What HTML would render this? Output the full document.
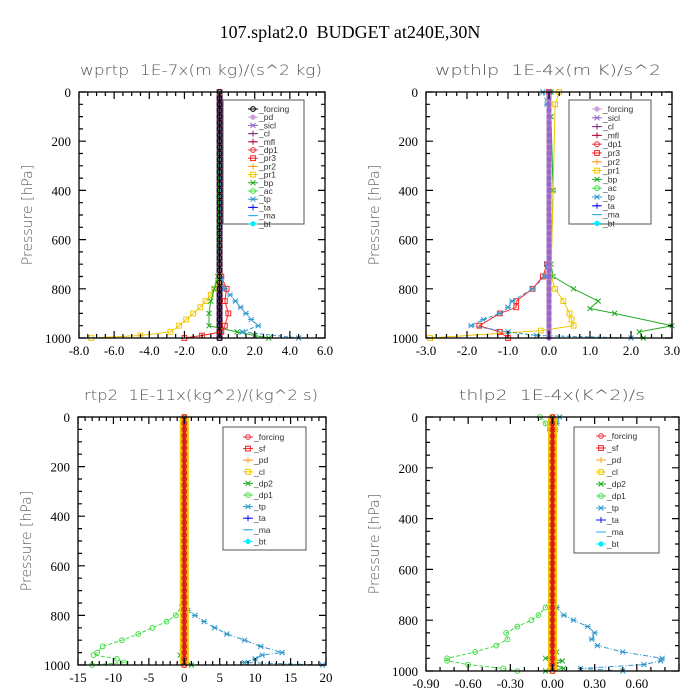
<!DOCTYPE html>
<html><head><meta charset="utf-8"><style>
body{margin:0;background:#fff}
svg{display:block}
svg text{white-space:pre}
.tl{font-family:"Liberation Serif",serif;font-size:13px;fill:#000}
.pt{font-family:"DejaVu Sans","Liberation Sans",sans-serif;font-size:14px;fill:#555;font-weight:300}
.lg{font-family:"Liberation Sans",sans-serif;font-size:8.5px;fill:#333}
</style></head><body>
<svg id="c" width="700" height="700" viewBox="0 0 700 700">
<rect width="700" height="700" fill="#fff"/>
<text x="350" y="38" text-anchor="middle" font-family="Liberation Serif,serif" font-size="18">107.splat2.0  BUDGET at240E,30N</text>
</svg>
<script>
// shared pressure levels for zero-valued series
const P = [0,25,50,75,100,125,150,175,200,225,250,275,300,325,350,375,400,425,450,475,500,525,550,575,600,625,650,675,700,725,750,775,800,825,850,875,900,925,950,975,1000];
const Z = [0,0,0,0,0,0,0,0,0,0,0,0,0,0,0,0,0,0,0,0,0,0,0,0,0,0,0,0,0,0,0,0,0,0,0,0,0,0,0,0,0];

// Panel 1 data (wprtp)
const p1Names = ["_forcing","_pd","_sicl","_cl","_mfl","_dp1","_pr3","_pr2","_pr1","_bp","_ac","_tp","_ta","_ma","_bt"];
const p1Pr1P = [0,750,775,800,825,850,875,900,925,950,975,990,1000];
const p1Pr1X = [0,0,-0.1,-0.3,-0.5,-0.8,-1.1,-1.5,-1.9,-2.3,-2.8,-4.5,-7.3];
const p1TpP = [0,760,800,825,850,875,900,925,950,975,1000];
const p1TpX = [0,0.1,0.3,0.6,0.9,1.2,1.5,1.8,2.2,1.3,4.5];
const p1Dp1P = [0,750,800,850,900,950,975,990,1000];
const p1Dp1X = [0,0.1,0.4,0.3,0.5,0.3,0.1,-1.0,-2.0];
const p1BpP = [0,750,800,850,900,950,975,990,1000];
const p1BpX = [0,-0.1,-0.3,-0.5,-0.6,-0.6,1.0,2.0,2.8];

// Panel 2 data (wpthlp)
const p2Names = ["_forcing","_sicl","_cl","_mfl","_dp1","_pr3","_pr2","_pr1","_bp","_ac","_tp","_ta","_ma","_bt"];
const p2BpP = [0,100,400,700,750,800,850,880,900,950,975,1000];
const p2BpX = [0.05,0.05,0.1,0.05,0.1,0.6,1.2,1.0,1.6,3.0,2.2,2.3];
const p2Pr1P = [0,50,400,750,800,850,900,925,950,970,1000];
const p2Pr1X = [0.25,0.15,0.1,0.05,0.15,0.35,0.5,0.55,0.6,-0.2,-2.9];
const p2Dp1P = [0,700,750,800,850,875,900,950,975,1000];
const p2Dp1X = [0,-0.05,-0.15,-0.4,-0.8,-0.8,-1.2,-1.7,-1.2,-1.0];
const p2TpP = [0,50,700,750,800,850,875,900,925,950,975,990,1000];
const p2TpX = [-0.15,-0.05,-0.05,-0.1,-0.4,-0.9,-1.0,-1.2,-1.6,-1.9,-1.0,-0.3,2.0];

// Panel 3 data (rtp2)
const p3Names = ["_forcing","_sf","_pd","_cl","_dp2","_dp1","_tp","_ta","_ma","_bt"];
const p3Dp1P = [0,760,800,825,850,875,900,925,950,960,975,990,1000];
const p3Dp1X = [0,-0.3,-1.2,-2.5,-4.5,-6.5,-8.8,-11.5,-12.3,-12.8,-9.5,-8.5,-13];
const p3TpP = [0,780,800,825,850,875,900,925,950,960,975,990,1000];
const p3TpX = [0,0.5,1.5,2.8,4.3,6.0,8.5,10.8,13.8,11.0,10.0,8.5,19.5];
const p3Dp2P = [0,900,950,960,975,1000];
const p3Dp2X = [0,0,-0.3,-0.6,-0.3,1.0];

// Panel 4 data (thlp2)
const p4Names = p3Names;
const p4Dp1P = [0,25,50,100,700,750,780,800,825,850,875,900,925,950,960,975,990,1000];
const p4Dp1X = [-0.09,-0.05,-0.02,0,-0.01,-0.05,-0.1,-0.15,-0.25,-0.33,-0.32,-0.4,-0.55,-0.75,-0.75,-0.6,-0.35,-0.25];
const p4TpP = [0,25,50,100,700,750,780,800,825,850,875,900,925,950,960,975,990,1000];
const p4TpX = [0.05,0.03,0.02,0.01,0.01,0.03,0.08,0.15,0.25,0.3,0.28,0.32,0.5,0.78,0.77,0.65,0.2,0.5];
const p4Dp2P = [0,900,925,950,960,975,990,1000];
const p4Dp2X = [0,0,0.03,-0.05,0.07,0.02,0.08,-0.05];

const S = document.getElementById('c');
const NS = 'http://www.w3.org/2000/svg';
function mk(tag, at, parent){const e=document.createElementNS(NS,tag);for(const k in at)e.setAttribute(k,at[k]);(parent||S).appendChild(e);return e;}

function marker(g, type, x, y, col){
  let e;
  if(type==='o'){e=mk('circle',{cx:x,cy:y,r:2.4,fill:'none',stroke:col,'stroke-width':1},g);}
  else if(type==='s'){e=mk('rect',{x:x-2.4,y:y-2.4,width:4.8,height:4.8,fill:'none',stroke:col,'stroke-width':1},g);}
  else if(type==='x'){e=mk('path',{d:`M${x-2.5},${y-2.5}L${x+2.5},${y+2.5}M${x-2.5},${y+2.5}L${x+2.5},${y-2.5}`,stroke:col,'stroke-width':1},g);}
  else if(type==='*'){e=mk('path',{d:`M${x-2.5},${y-2.5}L${x+2.5},${y+2.5}M${x-2.5},${y+2.5}L${x+2.5},${y-2.5}M${x-3},${y}L${x+3},${y}`,stroke:col,'stroke-width':1},g);}
  else if(type==='+'){e=mk('path',{d:`M${x-3},${y}L${x+3},${y}M${x},${y-3}L${x},${y+3}`,stroke:col,'stroke-width':1},g);}
  else if(type==='f'){e=mk('circle',{cx:x,cy:y,r:2.6,fill:col},g);}
  else {e=mk('path',{d:`M${x-3},${y}L${x+3},${y}`,stroke:col,'stroke-width':1},g);}
  
  
}

function panel(cfg){
  const {L,R,T,B,xmin,xmax,xticks,xlabels,minor,title,tx,tw,name}=cfg;
  const g=mk('g',{});
  
  
  const sx=v=>L+(v-xmin)/(xmax-xmin)*(R-L);
  const sy=p=>T+p/1000*(B-T);
  const t=mk('text',{x:tx,y:T-17,'text-anchor':'middle',class:'pt',textLength:tw,lengthAdjust:'spacingAndGlyphs'},g);t.textContent=title;
  
  
  const yl=mk('text',{x:0,y:0,class:'pt',transform:`translate(${L-47},${(T+B)/2}) rotate(-90)`,'text-anchor':'middle'},g);yl.textContent='Pressure [hPa]';
  
  
  cfg.series.forEach(s=>{
    const sg=mk('g',{},g);
    
    
    const pts=s.p.map((p,i)=>sx(s.x[i]).toFixed(1)+','+sy(p).toFixed(1)).join(' ');
    mk('polyline',{points:pts,fill:'none',stroke:s.c,'stroke-width':s.w||1,'stroke-dasharray':s.d||''},sg);
    s.p.forEach((p,i)=>marker(sg,s.m,sx(s.x[i]),sy(p),s.mc||s.c));
  });
  const box=mk('rect',{x:L,y:T,width:R-L,height:B-T,fill:'none',stroke:'#000','stroke-width':1.3},g);
  
  
  let d='';
  for(let p=0;p<=1000;p+=50){const y=sy(p);const len=p%200===0?7:4;d+=`M${L},${y}h${len}M${R},${y}h${-len}`;
    if(p%200===0){const tl=mk('text',{x:L-8,y:y+5,'text-anchor':'end',class:'tl'},g);tl.textContent=p;
      
      }}
  xticks.forEach((v,i)=>{const x=sx(v);d+=`M${x},${B}v-7M${x},${T}v7`;
    if(xlabels[i]!==''){const tl=mk('text',{x:x,y:B+17,'text-anchor':'middle',class:'tl'},g);tl.textContent=xlabels[i];
      
      }
    if(i<xticks.length-1){const st=(xticks[i+1]-v)/minor;for(let k=1;k<minor;k++){const xm=sx(v+k*st);d+=`M${xm},${B}v-4M${xm},${T}v4`;}}
  });
  mk('path',{d:d,stroke:'#000','stroke-width':1.2,fill:'none'},g);
  const lg=cfg.legend;
  const lb=mk('rect',{x:lg.x,y:lg.y,width:lg.w,height:lg.h,fill:'#fff',stroke:'#555','stroke-width':1},g);
  
  
  lg.items.forEach((it,i)=>{
    const y=lg.y+lg.y0+i*lg.dy;const x0=lg.x+lg.mx;
    const eg=mk('g',{},g);
    
    
    mk('line',{x1:x0-5,y1:y,x2:x0+5,y2:y,stroke:it.c,'stroke-width':1},eg);
    marker(eg,it.m,x0,y,it.c);
    const tt=mk('text',{x:x0+6,y:y+3,class:'lg'},eg);tt.textContent=it.n;
  });
}

const C={forcing:'#000',pd:'#c9a0dc',sicl:'#9966cc',cl:'#7b2a7b',mfl:'#b0103a',dp1:'#e8333a',pr3:'#ff2020',pr2:'#ffa020',pr1:'#f0c800',bp:'#22aa22',ac:'#44dd44',tp:'#3399cc',ta:'#1010ff',ma:'#33aaee',bt:'#00eeff'};
const M1={_forcing:'o',_pd:'f',_sicl:'*',_cl:'+',_mfl:'+',_dp1:'o',_pr3:'s',_pr2:'+',_pr1:'s',_bp:'x',_ac:'o',_tp:'*',_ta:'+',_ma:'-',_bt:'f'};
const cOf=n=>C[n.slice(1)];

panel({name:'panel-wprtp',L:79,R:325,T:92,B:338,xmin:-8,xmax:6,xticks:[-8,-6,-4,-2,0,2,4,6],xlabels:['-8.0','-6.0','-4.0','-2.0','0.0','2.0','4.0','6.0'],minor:4,
 title:'wprtp  1E-7x(m kg)/(s^2 kg)',tx:201,tw:242,
 series:[
  {n:'pd',p:P,x:Z,c:'#6b3a7b',w:6,m:'s',mc:'#5a2a5a'},
  {n:'pr1',p:p1Pr1P,x:p1Pr1X,c:C.pr1,m:'s'},
  {n:'bp',p:p1BpP,x:p1BpX,c:C.bp,m:'x'},
  {n:'dp1',p:p1Dp1P,x:p1Dp1X,c:C.pr3,m:'s'},
  {n:'tp',p:p1TpP,x:p1TpX,c:C.tp,m:'*',d:'4,2'},
  {n:'forcing',p:P,x:Z,c:'#000',w:1,m:'o'}
 ],
 legend:{x:223,y:100,w:81,h:124,y0:9,dy:8.2,mx:30,items:p1Names.map(n=>({n:n,c:cOf(n),m:M1[n]}))}});

panel({name:'panel-wpthlp',L:426,R:672,T:92,B:338,xmin:-3,xmax:3,xticks:[-3,-2,-1,0,1,2,3],xlabels:['-3.0','-2.0','-1.0','0.0','1.0','2.0','3.0'],minor:4,
 title:'wpthlp  1E-4x(m K)/s^2',tx:548,tw:226,
 series:[
  {n:'bp',p:p2BpP,x:p2BpX,c:C.bp,m:'x'},
  {n:'pr1',p:p2Pr1P,x:p2Pr1X,c:C.pr1,m:'s'},
  {n:'dp1',p:p2Dp1P,x:p2Dp1X,c:C.pr3,m:'s'},
  {n:'tp',p:p2TpP,x:p2TpX,c:C.tp,m:'*',d:'4,2'},
  {n:'forcing',p:P,x:Z,c:'#b080c0',w:5,m:'f',mc:'#9966cc'}
 ],
 legend:{x:569,y:100,w:82,h:124,y0:9,dy:8.8,mx:28,items:p2Names.map(n=>({n:n,c:n==='_forcing'?C.pd:cOf(n),m:n==='_forcing'?'f':M1[n]}))}});

const C3={_forcing:'#e8333a',_sf:'#ff2020',_pd:'#ffa020',_cl:'#f0c800',_dp2:'#22aa22',_dp1:'#44dd44',_tp:'#3399cc',_ta:'#1010ff',_ma:'#33aaee',_bt:'#00eeff'};
const M3={_forcing:'o',_sf:'s',_pd:'+',_cl:'s',_dp2:'x',_dp1:'o',_tp:'*',_ta:'+',_ma:'-',_bt:'f'};

panel({name:'panel-rtp2',L:78,R:326,T:417,B:665,xmin:-15,xmax:20,xticks:[-15,-10,-5,0,5,10,15,20],xlabels:['-15','-10','-5','0','5','10','15','20'],minor:5,
 title:'rtp2  1E-11x(kg^2)/(kg^2 s)',tx:201,tw:234,
 series:[
  {n:'dp1',p:p3Dp1P,x:p3Dp1X,c:'#44dd44',m:'o',d:'4,2'},
  {n:'tp',p:p3TpP,x:p3TpX,c:'#3399cc',m:'*',d:'5,2,1,2'},
  {n:'dp2',p:p3Dp2P,x:p3Dp2X,c:'#22aa22',m:'x'},
  {n:'pd',p:P,x:Z,c:'#f0c800',w:9,m:'s',mc:'#ffa020'},
  {n:'forcing',p:P,x:Z,c:'#ee1111',w:3,m:'o',mc:'#cc2222'}
 ],
 legend:{x:223,y:427,w:83,h:123,y0:10,dy:11.6,mx:25,items:p3Names.map(n=>({n:n,c:C3[n],m:M3[n]}))}});

panel({name:'panel-thlp2',L:426,R:679,T:417,B:671,xmin:-0.9,xmax:0.9,xticks:[-0.9,-0.6,-0.3,0,0.3,0.6,0.9],xlabels:['-0.90','-0.60','-0.30','0.00','0.30','0.60',''],minor:3,
 title:'thlp2  1E-4x(K^2)/s',tx:552,tw:186,
 series:[
  {n:'dp1',p:p4Dp1P,x:p4Dp1X,c:'#44dd44',m:'o',d:'4,2'},
  {n:'tp',p:p4TpP,x:p4TpX,c:'#3399cc',m:'*',d:'5,2,1,2'},
  {n:'dp2',p:p4Dp2P,x:p4Dp2X,c:'#22aa22',m:'x'},
  {n:'pd',p:P,x:Z,c:'#f0c800',w:9,m:'s',mc:'#ffa020'},
  {n:'forcing',p:P,x:Z,c:'#ee1111',w:3,m:'o',mc:'#cc2222'}
 ],
 legend:{x:574,y:427,w:85,h:126,y0:9,dy:12,mx:27,items:p4Names.map(n=>({n:n,c:C3[n],m:M3[n]}))}});
</script>
</body></html>
